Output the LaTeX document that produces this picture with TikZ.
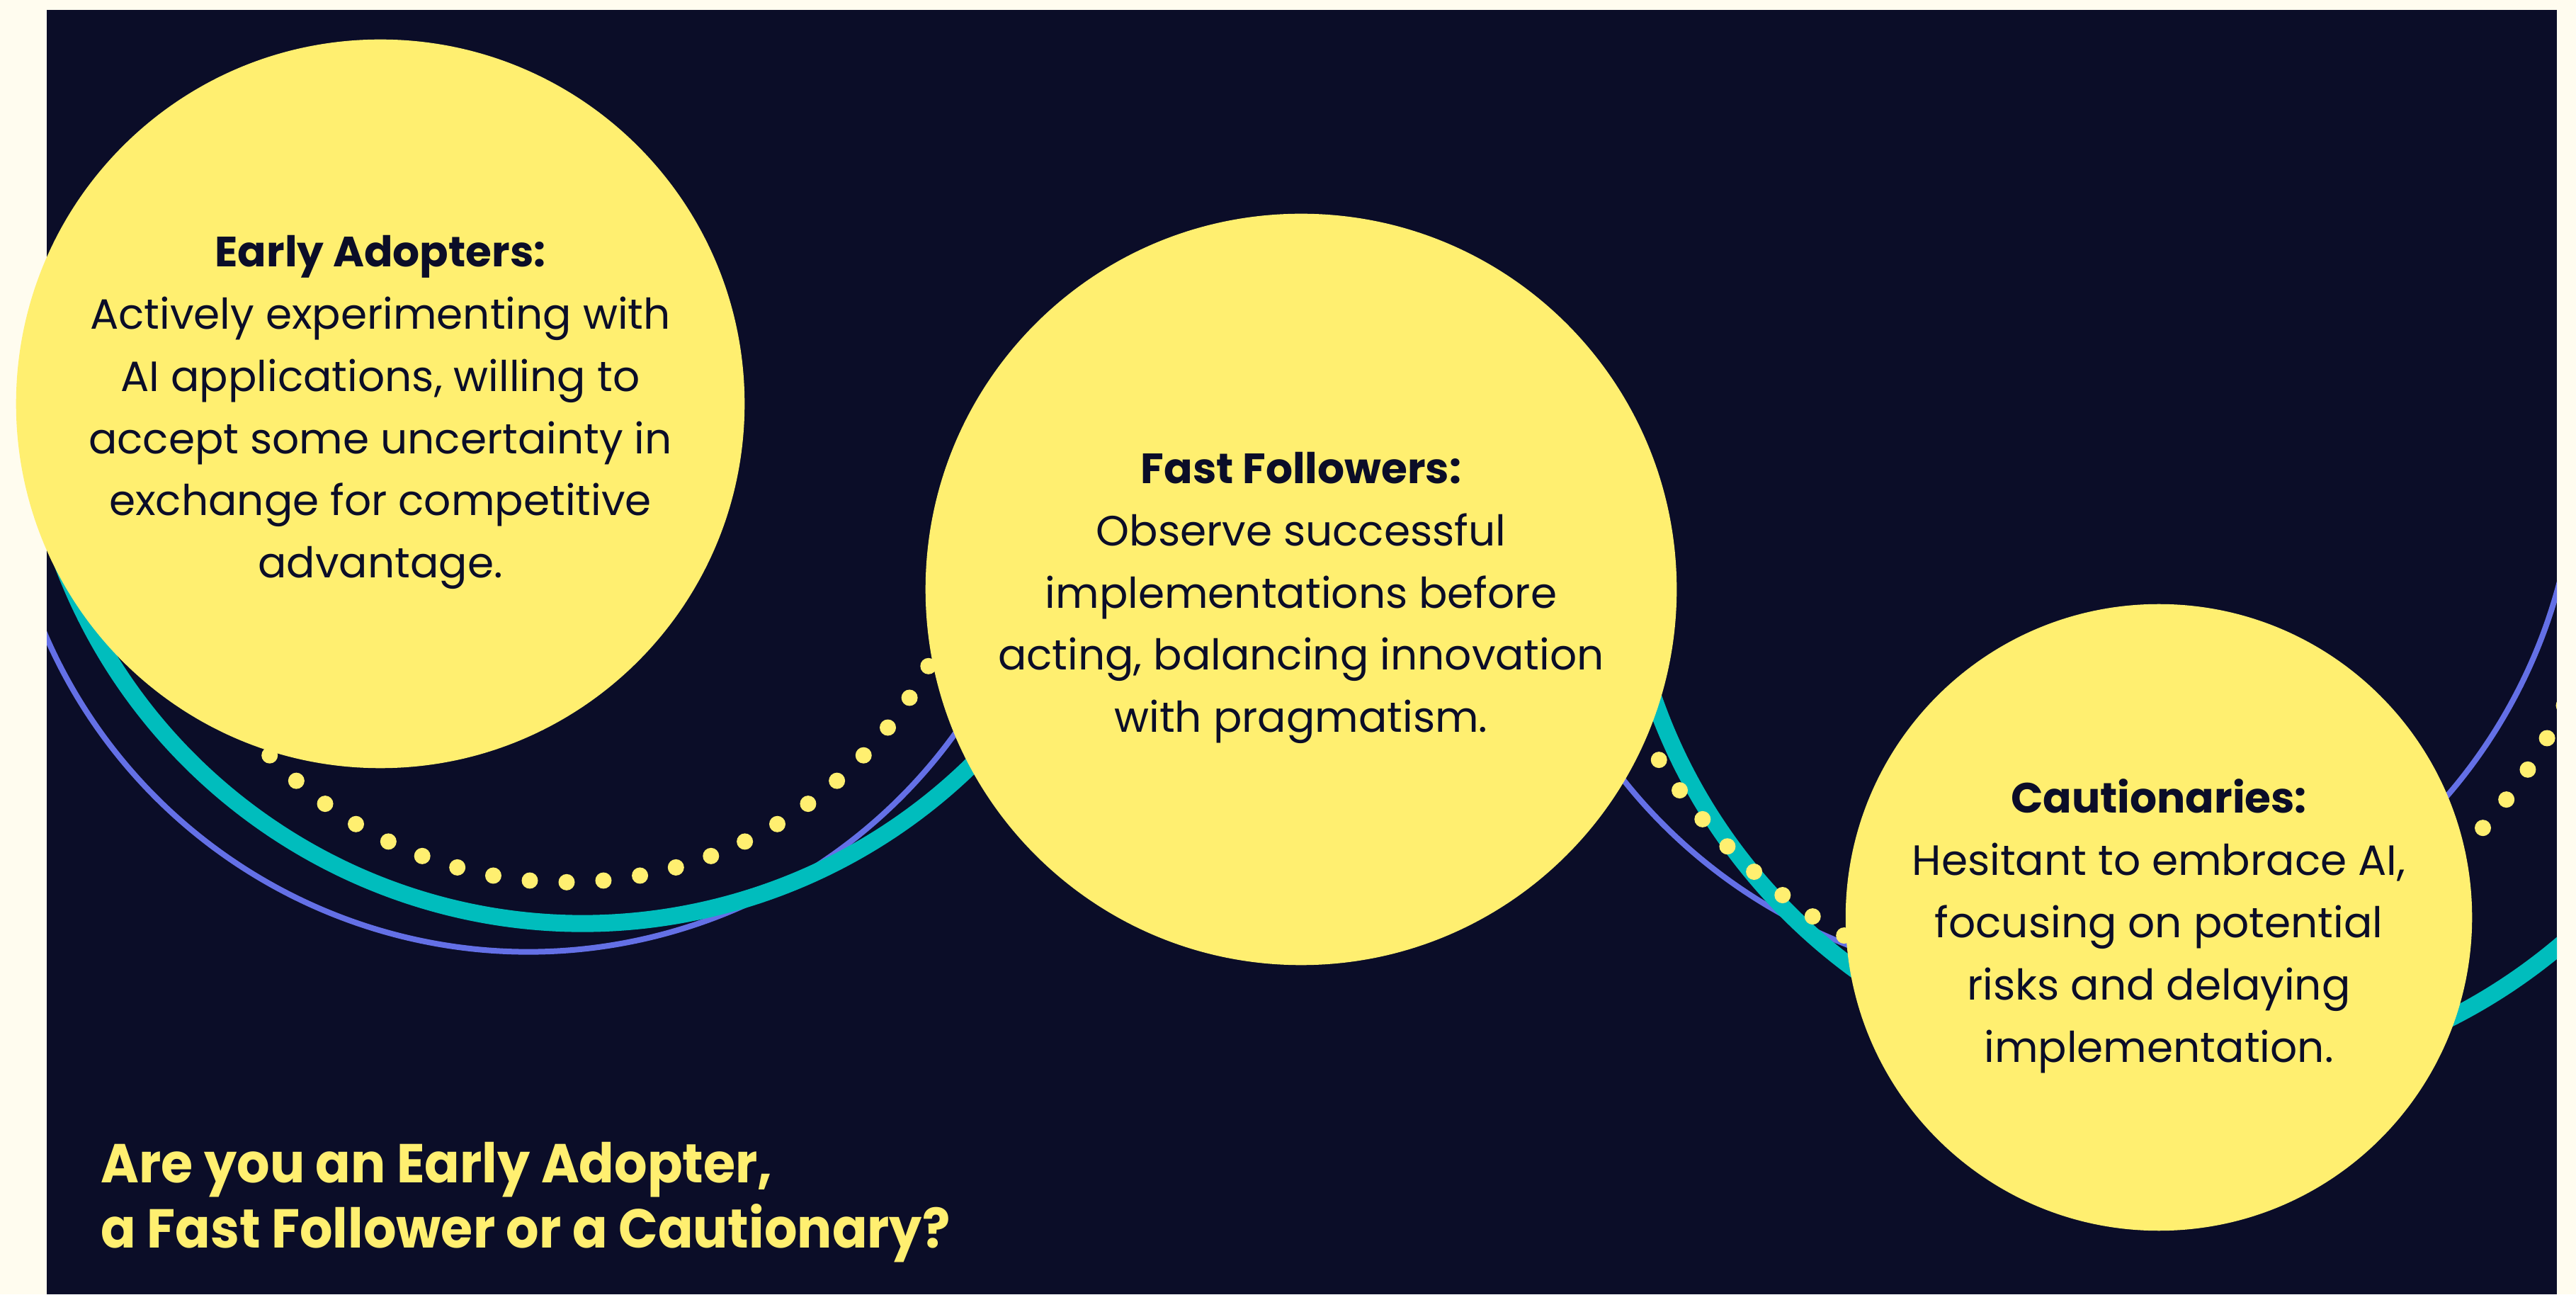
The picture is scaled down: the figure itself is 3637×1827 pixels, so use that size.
\documentclass[tikz,border=0pt]{standalone}
\usepackage{fontspec}
\setmainfont{Poppins}
\definecolor{navy}{HTML}{0B0D28}
\definecolor{sun}{HTML}{FFEF70}
\definecolor{tealc}{HTML}{00BDBD}
\definecolor{iris}{HTML}{6470E6}
\definecolor{cream}{HTML}{FFFCEF}
\begin{document}
\begin{tikzpicture}
  [x=0.01cm,y=0.01cm,
   bubble/.style={circle,fill=sun,inner sep=0pt},
   blurb/.style={text=navy,align=center,inner sep=0pt,yshift=-0.12cm,font=\fontsize{17}{25}\selectfont},
   ask/.style={text=sun,align=left,inner sep=0pt,font=\bfseries\fontsize{22}{26}\selectfont\addfontfeatures{FakeStretch=0.945}},
   band/.style={tealc,line width=0.24cm},
   thread/.style={iris,line width=0.08cm}]
  \useasboundingbox (0,0) rectangle (3637,1827);
  \fill[cream] (0,0) rectangle (3637,1827);
  \fill[navy] (66,0) rectangle (3610,1813);
  % centres of the arcs
  \coordinate (bandL) at (823,1309);
  \coordinate (threadL) at (746,1227);
  \coordinate (dotsL) at (800,1162);
  \coordinate (bandM) at (3095,1108);
  \coordinate (threadM) at (2883,1197);
  \coordinate (dotsM) at (2960,1144);
  \begin{scope}
    \clip (66,0) rectangle (3610,1813);
    \draw[thread] (threadL) ++(200:7.43cm) arc[start angle=200,end angle=335,radius=7.43cm];
    \draw[band] (bandL) ++(195:7.85cm) arc[start angle=195,end angle=325,radius=7.85cm];
    \draw[thread] (threadM) ++(205:7.55cm) arc[start angle=205,end angle=355,radius=7.55cm];
    \draw[band] (bandM) ++(190:8.05cm) arc[start angle=190,end angle=320,radius=8.05cm];
    \foreach \k in {0,...,27}
      \fill[sun] (dotsL) ++(203.18+\k*5.14:5.8cm) circle (0.115cm);
    \foreach \k in {0,...,36}
      \fill[sun] (dotsM) ++(200+\k*4.08:7.3cm) circle (0.115cm);
  \end{scope}
  \node[bubble,minimum size=10.28cm,
    label={[blurb]center:{\textbf{Early Adopters:}\\Actively experimenting with\\AI applications, willing to\\accept some uncertainty in\\exchange for competitive\\advantage.}}]
    (early) at (537,1257) {};
  \node[bubble,minimum size=10.6cm,
    label={[blurb]center:{\textbf{Fast Followers:}\\Observe successful\\implementations before\\acting, balancing innovation\\with pragmatism.}}]
    (fast) at (1837,995) {};
  \node[bubble,minimum size=8.84cm,
    label={[blurb]center:{\textbf{Cautionaries:}\\Hesitant to embrace AI,\\focusing on potential\\risks and delaying\\implementation.}}]
    (caution) at (3048,532) {};
  \node[ask,anchor=north west] (question) at (142,215)
    {Are you an Early Adopter,\\a Fast Follower or a Cautionary?};
\end{tikzpicture}
\end{document}
